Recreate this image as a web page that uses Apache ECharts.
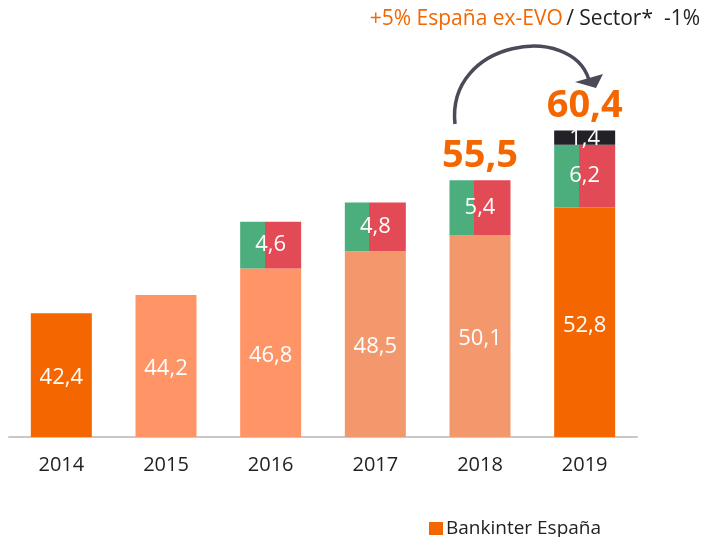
<!DOCTYPE html>
<html>
<head>
<meta charset="utf-8">
<script src="https://cdn.jsdelivr.net/npm/echarts@6/dist/echarts.min.js"></script>
<style>
  html, body { margin: 0; padding: 0; background: #fff; }
  #chart { width: 705px; height: 537px; }
</style>
</head>
<body>
<div id="chart"></div>
<script>
// años
const years = ["2014", "2015", "2016", "2017", "2018", "2019"];
// Bankinter España (base)
const baseValues = [42.4, 44.2, 46.8, 48.5, 50.1, 52.8];
// crecimiento verde/rojo
const growthValues = [null, null, 4.6, 4.8, 5.4, 6.2];
// bloque oscuro 2019
const evoValues = [null, null, null, null, null, 1.4];
// totales encima de la barra
const totals = [null, null, null, null, 55.5, 60.4];

const darkOrange = "#F46600";
const baseColors = [darkOrange, "#FF9466", "#FF9466", "#F3976C", "#F3976C", darkOrange];
const FONT = "'Open Sans', sans-serif";

const fmt = v => String(v).replace(".", ",");

const splitColor = {
  type: "linear", x: 0, y: 0, x2: 1, y2: 0,
  colorStops: [
    { offset: 0, color: "#4BAE7C" },
    { offset: 0.4, color: "#4BAE7C" },
    { offset: 0.4, color: "#E24A55" },
    { offset: 1, color: "#E24A55" }
  ]
};

const valueLabel = {
  show: true,
  position: "inside",
  color: "#fff",
  fontFamily: FONT,
  fontSize: 22,
  formatter: p => fmt(p.value)
};

const option = {
  animation: false,
  textStyle: { fontFamily: FONT },
  grid: { left: 9, right: 68, top: 33, bottom: 100 },
  legend: {
    left: 424,
    top: 514,
    itemWidth: 14,
    itemHeight: 13,
    itemGap: 4,
    icon: "rect",
    data: ["Bankinter España"],
    textStyle: { color: "#222", fontSize: 19, fontFamily: FONT, padding: [0, 0, 0, -2] }
  },
  xAxis: {
    type: "category",
    data: years,
    axisTick: { show: false },
    axisLine: { lineStyle: { color: "#C8C8C8", width: 2 } },
    axisLabel: { color: "#222", fontSize: 20, fontFamily: FONT, margin: 18 }
  },
  yAxis: {
    type: "value",
    min: 30.2,
    max: 70,
    show: false,
    splitLine: { show: false }
  },
  series: [
    {
      name: "Bankinter España",
      type: "bar",
      stack: "total",
      barWidth: 61,
      itemStyle: { color: darkOrange },
      label: Object.assign({}, valueLabel, { offset: [0, 3] }),
      data: baseValues.map((v, i) => ({ value: v, itemStyle: { color: baseColors[i] } }))
    },
    {
      name: "Crecimiento",
      type: "bar",
      stack: "total",
      itemStyle: { color: splitColor },
      label: valueLabel,
      data: growthValues
    },
    {
      name: "EVO",
      type: "bar",
      stack: "total",
      itemStyle: { color: "#222128" },
      label: Object.assign({}, valueLabel, { offset: [0, 1] }),
      data: evoValues
    },
    {
      name: "Total",
      type: "bar",
      stack: "total",
      itemStyle: { color: "transparent" },
      label: {
        show: true,
        position: "top",
        distance: 5,
        color: "#F46600",
        fontFamily: FONT,
        fontWeight: "bold",
        fontSize: 38,
        formatter: p => (totals[p.dataIndex] == null ? "" : fmt(totals[p.dataIndex]))
      },
      data: totals.map(t => (t == null ? null : 0))
    }
  ],
  graphic: [
    {
      type: "text",
      right: 5,
      top: 9,
      style: {
        text: "{a|+5% España ex-EVO} {b|/ Sector*  -1%}",
        rich: {
          a: { fill: "#F46600", fontSize: 21, fontFamily: FONT },
          b: { fill: "#222", fontSize: 21, fontFamily: FONT }
        }
      }
    },
    {
      type: "bezierCurve",
      shape: { x1: 455, y1: 124, cpx1: 446, cpy1: 40, cpx2: 572, cpy2: 22, x2: 589, y2: 80 },
      style: { stroke: "#4A4A58", lineWidth: 3.5, fill: null }
    },
    {
      type: "polygon",
      shape: { points: [[575, 82], [603, 74], [596, 88]] },
      style: { fill: "#4A4A58" }
    }
  ]
};

const myChart = echarts.init(document.getElementById("chart"));
myChart.setOption(option);
window.addEventListener("resize", () => {
  myChart.resize();
});
</script>
</body>
</html>
